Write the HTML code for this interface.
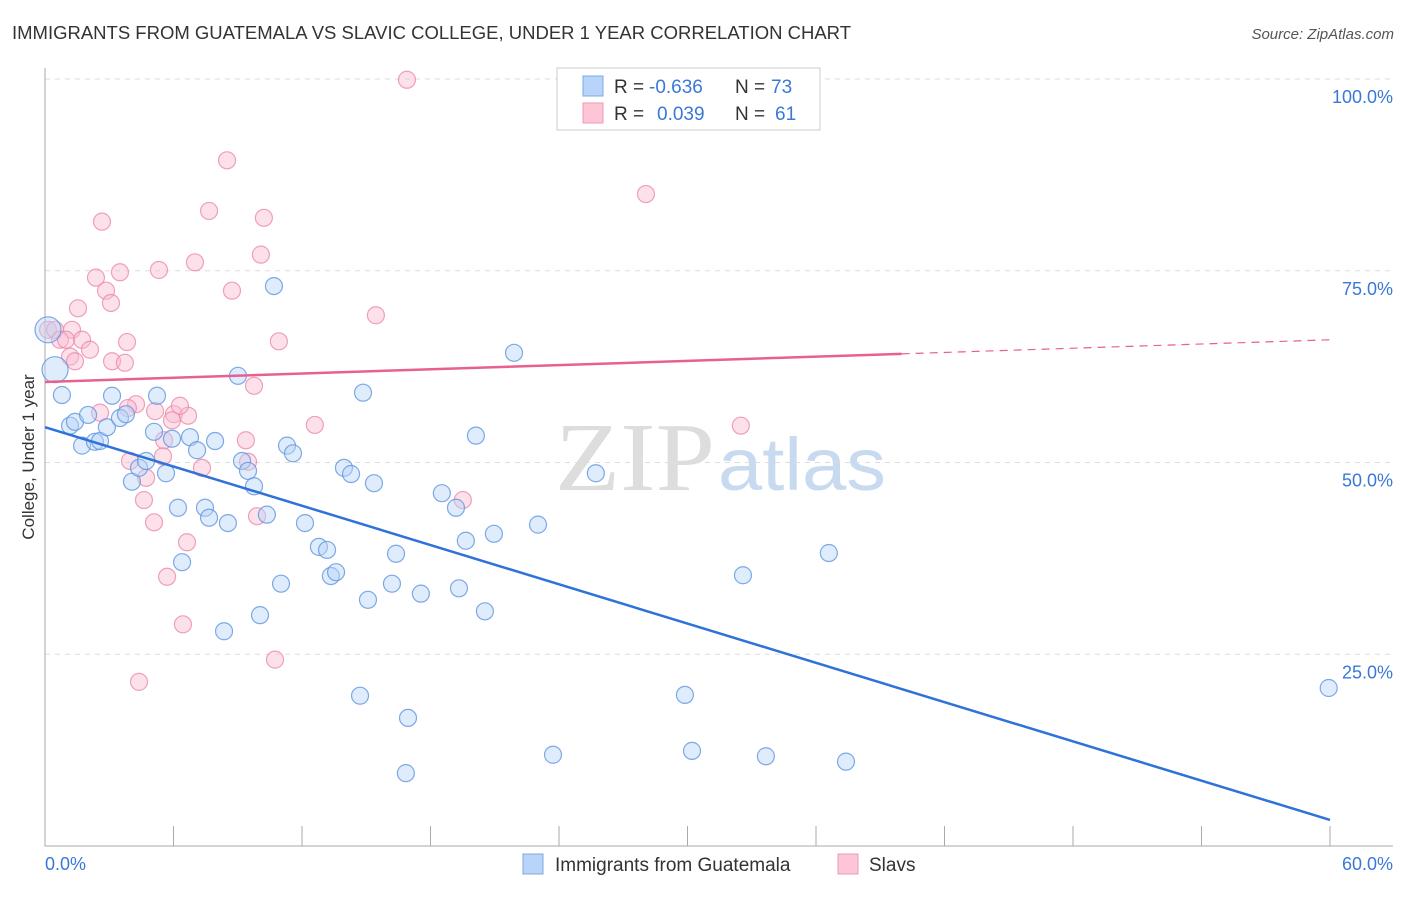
<!DOCTYPE html>
<html><head><meta charset="utf-8"><style>
body{margin:0;background:#fff;font-family:"Liberation Sans",sans-serif}
</style></head><body>
<svg id="c" width="1406" height="892" xmlns="http://www.w3.org/2000/svg">
<text x="12" y="39" font-size="18" fill="#333" textLength="839" lengthAdjust="spacingAndGlyphs">IMMIGRANTS FROM GUATEMALA VS SLAVIC COLLEGE, UNDER 1 YEAR CORRELATION CHART</text>
<text x="1394" y="39" font-size="15" fill="#555" text-anchor="end" font-style="italic">Source: ZipAtlas.com</text>
<text x="555" y="490" font-size="98" fill="#ddd" textLength="160" lengthAdjust="spacingAndGlyphs" font-family="Liberation Serif">ZIP</text>
<text x="718" y="490" font-size="74" fill="#c8daf0" textLength="168" lengthAdjust="spacingAndGlyphs">atlas</text>
<g id="grid"></g><g id="pts"></g><g id="lines"></g>
<text transform="translate(34,457) rotate(-90)" font-size="17" fill="#333" text-anchor="middle">College, Under 1 year</text>
<g>
<rect x="557" y="68" width="263" height="62" fill="#fff" stroke="#ccc"/>
<rect x="583" y="76" width="20" height="20" fill="#b8d4f8" stroke="#7fa8e0"/>
<rect x="583" y="103" width="20" height="20" fill="#fcc6d6" stroke="#ee9ab4"/>
<text x="614" y="93" font-size="19" fill="#333">R =</text>
<text x="649" y="93" font-size="19" fill="#3a78d8">-0.636</text>
<text x="735" y="93" font-size="19" fill="#333">N =</text>
<text x="771" y="93" font-size="19" fill="#3a78d8">73</text>
<text x="614" y="120" font-size="19" fill="#333">R =</text>
<text x="657" y="120" font-size="19" fill="#3a78d8">0.039</text>
<text x="735" y="120" font-size="19" fill="#333">N =</text>
<text x="775" y="120" font-size="19" fill="#3a78d8">61</text>
</g>
<g>
<rect x="523" y="854" width="20" height="20" fill="#b8d4f8" stroke="#7fa8e0"/>
<text x="555" y="871" font-size="19" fill="#333">Immigrants from Guatemala</text>
<rect x="838" y="854" width="20" height="20" fill="#fcc6d6" stroke="#ee9ab4"/>
<text x="869" y="871" font-size="19" fill="#333">Slavs</text>
</g>
<text x="45" y="870" font-size="18" fill="#3a78d8">0.0%</text>
<text x="1393" y="870" font-size="18" fill="#3a78d8" text-anchor="end">60.0%</text>
</svg>
<script>
const yTicks=[100,75,50,25];
const yTickLabels=["100.0%","75.0%","50.0%","25.0%"];
const blueX=[0.14,0.47,0.79,1.17,1.4,1.73,2.01,2.33,2.57,2.89,3.13,3.5,3.78,4.06,4.39,4.72,5.09,5.23,5.65,5.93,6.21,6.4,6.77,7.1,7.47,7.66,7.94,8.36,8.54,9.01,9.2,9.48,9.76,10.04,10.36,10.69,11.02,11.3,11.58,12.14,12.79,13.17,13.35,13.59,13.96,14.29,14.71,14.85,15.08,15.36,16.2,16.39,16.85,16.95,17.55,18.53,19.19,19.33,19.65,20.12,20.54,20.96,21.9,23.02,23.72,25.72,29.88,30.21,32.59,33.66,36.6,37.4,59.94];
const blueY=[67.3,62.1,58.8,54.8,55.3,52.2,56.2,52.7,52.8,54.6,58.7,55.8,56.3,47.5,49.3,50.2,54.0,58.7,48.6,53.1,44.1,37.0,53.3,51.6,44.1,42.8,52.8,28.0,42.1,61.3,50.2,48.9,46.9,30.1,43.2,73.0,34.2,52.2,51.2,42.1,39.0,38.6,35.2,35.7,49.3,48.5,19.6,59.1,32.1,47.3,34.2,38.1,9.5,16.7,32.9,46.0,44.1,33.6,39.8,53.5,30.6,40.7,64.3,41.9,11.9,48.6,19.7,12.4,35.3,11.7,38.2,11.0,20.6];
const pinkX=[16.9,8.5,28.06,2.66,7.66,10.22,2.38,3.5,5.32,7.0,10.08,8.73,2.85,3.08,1.54,15.45,0.14,0.47,1.26,0.7,0.98,1.73,3.83,10.92,2.1,1.17,1.4,3.13,3.73,9.76,4.25,3.87,2.57,5.14,6.02,6.68,6.3,5.93,12.6,32.49,9.38,5.56,3.97,5.51,9.48,7.33,4.72,4.62,19.51,9.9,5.09,6.63,5.7,6.44,10.74,4.39];
const pinkY=[99.9,89.4,85.0,81.4,82.8,81.9,74.1,74.8,75.1,76.1,77.1,72.4,72.4,70.8,70.1,69.2,67.3,67.3,67.3,66.0,66.0,66.0,65.7,65.8,64.7,63.8,63.2,63.2,63.0,60.0,57.6,57.1,56.5,56.7,56.3,56.1,57.4,55.5,54.9,54.8,52.9,52.9,50.2,50.8,50.1,49.3,48.0,45.1,45.1,43.0,42.2,39.6,35.1,28.9,24.3,21.4];
const blueTrend=[54.6,3.4];
const pinkTrend=[60.5,66.0];
const pinkSolidEnd=40;
const NS="http://www.w3.org/2000/svg";
const sx=v=>45+v*(1285/60), sy=v=>846-v*7.67;
function mk(t,a,p){const e=document.createElementNS(NS,t);for(const k in a)e.setAttribute(k,a[k]);p.appendChild(e);return e;}
const grid=document.getElementById('grid');
yTicks.forEach((t,i)=>{
 const l=mk('line',{x1:45,x2:1393,y1:sy(t),y2:sy(t),stroke:'#ddd','stroke-dasharray':'5,5'},grid);
 
 
 const tx=mk('text',{x:1393,y:sy(t)+24,'font-size':18,fill:'#3a78d8','text-anchor':'end'},grid);tx.textContent=yTickLabels[i];
 
 
});
const ax=mk('path',{d:'M45,68V846H1393',fill:'none',stroke:'#aaa'},grid);


for(let k=1;k<=10;k++){const tk=mk('line',{x1:sx(k*6),x2:sx(k*6),y1:826,y2:846,stroke:'#aaa'},grid);
 
 }
const pts=document.getElementById('pts');
function dots(X,Y,fill,stroke,name){X.forEach((x,i)=>{const big=i<2&&x<0.6;
 const c=mk('circle',{cx:sx(x),cy:sy(Y[i]),r:big?13:8.5,fill:fill,'fill-opacity':0.45,stroke:stroke,'stroke-opacity':0.8,'stroke-width':1.2},pts);
 
 });}
dots(pinkX,pinkY,'#f9bcd0','#ec8aaa','slavs-point');
dots(blueX,blueY,'#b8d4f8','#5f95e0','guatemala-point');
const lines=document.getElementById('lines');
const bl=mk('line',{x1:sx(0),y1:sy(blueTrend[0]),x2:sx(60),y2:sy(blueTrend[1]),stroke:'#2f72d8','stroke-width':2.5},lines);


const pm=pinkTrend[0]+(pinkTrend[1]-pinkTrend[0])*pinkSolidEnd/60;
const pl=mk('line',{x1:sx(0),y1:sy(pinkTrend[0]),x2:sx(pinkSolidEnd),y2:sy(pm),stroke:'#e8608e','stroke-width':2.5},lines);


const pd=mk('line',{x1:sx(pinkSolidEnd),y1:sy(pm),x2:sx(60),y2:sy(pinkTrend[1]),stroke:'#e8608e','stroke-width':1.2,'stroke-dasharray':'8,6'},lines);


</script>
</body></html>
